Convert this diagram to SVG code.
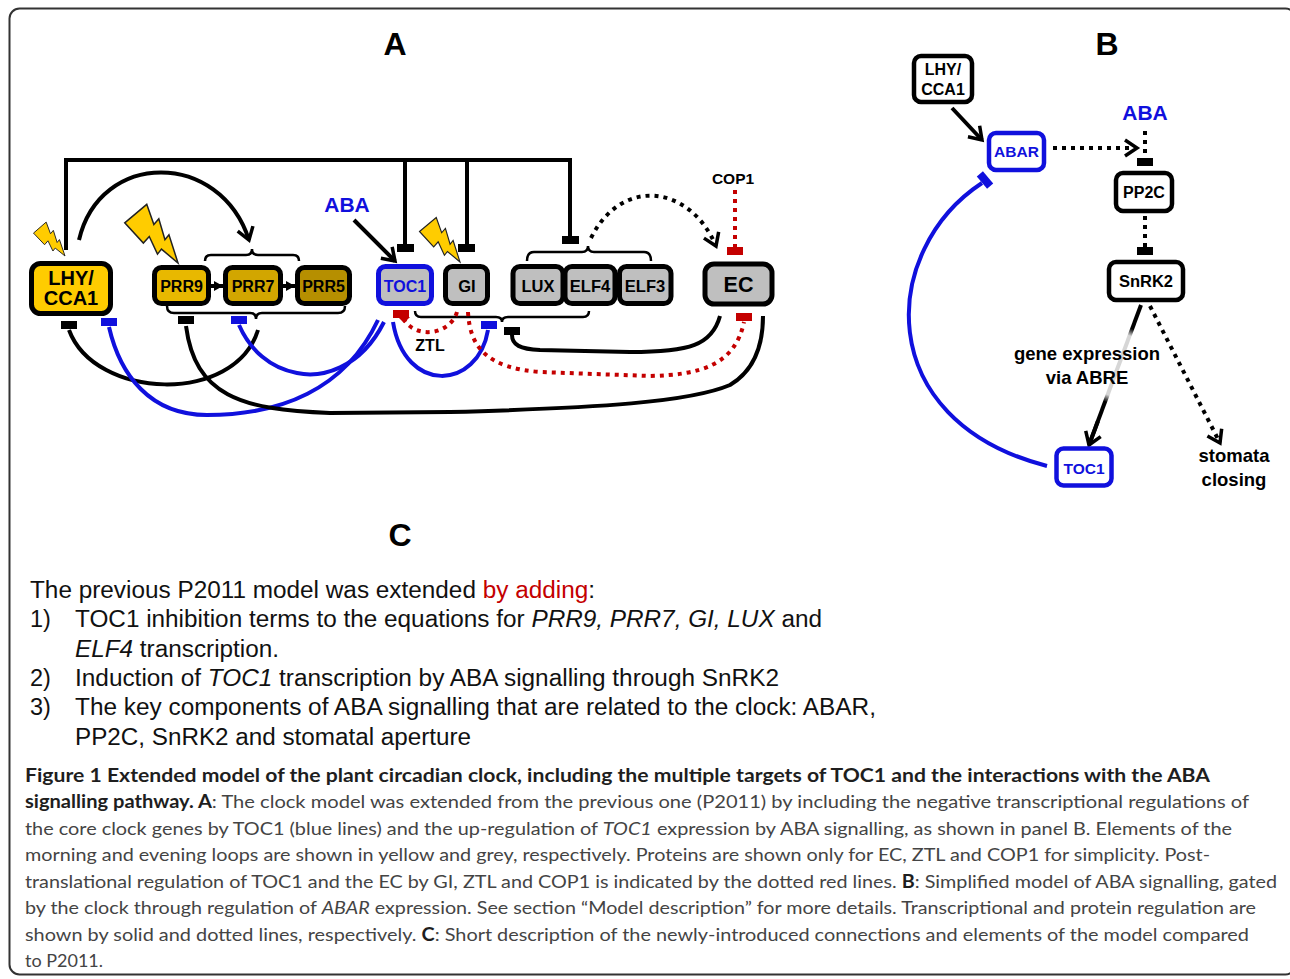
<svg xmlns="http://www.w3.org/2000/svg" width="1290" height="979" viewBox="0 0 1290 979">
<defs>
<style>
.nd{stroke:#000;stroke-width:5}
.ndb{stroke:#000;stroke-width:4.5;fill:#fff}
.ndblue{stroke:#1010dd;stroke-width:4.5;fill:#fff}
.lb{font-family:"Liberation Sans",Arial,sans-serif;font-weight:bold;text-anchor:middle;fill:#000}
.lbb{font-family:"Liberation Sans",Arial,sans-serif;font-weight:bold;text-anchor:middle;fill:#1010dd}
.ttl{font-family:"Liberation Sans",Arial,sans-serif;font-weight:bold;text-anchor:middle;font-size:32px;fill:#000}
.ln{fill:none;stroke:#000;stroke-width:4}
.bl{fill:none;stroke:#1010dd;stroke-width:4}
.rd{fill:none;stroke:#c40000;stroke-width:4;stroke-dasharray:4 5}
.dt{fill:none;stroke:#000;stroke-width:4;stroke-dasharray:4 5}
.br{fill:none;stroke:#000;stroke-width:2.5}
.bk{fill:#000}
.bb{fill:#1010dd}
.rb{fill:#c40000}
.bolt{fill:#ffcc00;stroke:#222;stroke-width:1.2;stroke-linejoin:miter}
.tc{font-family:"Liberation Sans",Arial,sans-serif;font-size:23.5px;fill:#111}
.cap{font-family:Lato,"Open Sans",sans-serif;font-size:18px;fill:#444}
.capb{font-weight:bold;fill:#1e1e1e}
</style>
<marker id="arr" markerUnits="userSpaceOnUse" markerWidth="24" markerHeight="24" viewBox="0 0 24 24" refX="20" refY="12" orient="auto">
<path d="M8,4 L20,12 L8,20" fill="none" stroke="#000" stroke-width="3.5" stroke-dasharray="none"/>
</marker>
<marker id="tri" markerUnits="userSpaceOnUse" markerWidth="9" markerHeight="10" viewBox="0 0 9 10" refX="9" refY="5" orient="auto">
<path d="M0,0 L9,5 L0,10 Z" fill="#000"/>
</marker>
<linearGradient id="gx" gradientUnits="userSpaceOnUse" x1="1141" y1="305" x2="1089" y2="445">
<stop offset="0" stop-color="#000"/>
<stop offset="0.17" stop-color="#000"/>
<stop offset="0.22" stop-color="#d6d6d6"/>
<stop offset="0.64" stop-color="#d6d6d6"/>
<stop offset="0.69" stop-color="#000"/>
<stop offset="1" stop-color="#000"/>
</linearGradient>
<path id="boltshape" d="M-12,-52 L11,-52 L5,-36 L11,-37 L4,-21 L9,-22 L0,0 L-3,-17 L-8,-16 L-4,-31 L-11,-30 Z"/>
</defs>

<rect x="9.5" y="8.5" width="1286" height="966" rx="10" fill="#fff" stroke="#333" stroke-width="2"/>

<text class="ttl" x="395" y="55">A</text>
<text class="ttl" x="1107" y="55">B</text>
<text class="ttl" x="400" y="546">C</text>

<g id="bolts">
<use href="#boltshape" class="bolt" transform="translate(65,256) rotate(-41) scale(0.73)"/>
<use href="#boltshape" class="bolt" transform="translate(178,263) rotate(-40) scale(1.25)"/>
<use href="#boltshape" class="bolt" transform="translate(460,262) rotate(-40) scale(0.95)"/>
</g>

<g id="connectors">
<!-- panel A -->
<path class="ln" d="M66 250 V160 H570 V236 M405 160 V244 M467 160 V244"/>
<rect class="bk" x="397" y="244" width="17" height="8"/>
<rect class="bk" x="458" y="244" width="17" height="8"/>
<rect class="bk" x="562" y="236" width="17" height="8"/>
<path class="ln" d="M79 240 C100 150, 220 150, 249 240" marker-end="url(#arr)"/>
<path class="br" d="M205 261 Q205 255 211 255 H246 Q252 255 252 249 Q252 255 258 255 H293 Q299 255 299 261"/>
<path class="br" d="M167 306 Q167 313 174 313 H250 Q256 313 256 319 Q256 313 262 313 H338 Q345 313 345 306"/>
<path class="br" d="M527 261 Q527 252 534 252 H582 Q588 252 588 246 Q588 252 594 252 H644 Q651 252 651 261"/>
<path class="br" d="M415 311 Q415 317 421 317 H496 Q502 317 502 322 Q502 317 508 317 H583 Q589 317 589 311"/>
<path class="dt" d="M591 238 C622 176, 690 185, 716 246" marker-end="url(#arr)"/>
<path class="rd" d="M735 190 V247"/>
<rect class="rb" x="727" y="247" width="16" height="8"/>
<path class="ln" d="M354 220 L395 261" marker-end="url(#arr)"/>
<path class="ln" stroke-width="2.5" d="M211 286 H223" marker-end="url(#tri)"/>
<path class="ln" stroke-width="2.5" d="M283 286 H295" marker-end="url(#tri)"/>
<!-- PRR -> LHY -->
<path class="ln" d="M258 330 C235 405, 95 400, 69 330"/>
<rect class="bk" x="61" y="321" width="16" height="8"/>
<!-- TOC1 -> LHY -->
<path class="bl" d="M378 320 C345 390, 280 415, 207 415 C150 415, 120 375, 109 327"/>
<rect class="bb" x="101" y="318" width="16" height="8"/>
<!-- TOC1 -> PRR7 -->
<path class="bl" d="M384 322 C360 370, 320 378, 297 373 C270 368, 250 350, 239 325"/>
<rect class="bb" x="231" y="316" width="16" height="8"/>
<!-- TOC1 -> GI -->
<path class="bl" d="M393 322 C405 395, 478 390, 488 330"/>
<rect class="bb" x="481" y="321" width="16" height="8"/>
<!-- EC -> PRR9 -->
<path class="ln" d="M186 326 C195 395, 240 410, 330 413 L450 412 C600 408, 690 402, 730 385 C755 370, 763 345, 763 316"/>
<rect class="bk" x="178" y="316" width="16" height="8"/>
<!-- EC -> evening brace -->
<path class="ln" d="M720 316 C712 345, 690 352, 630 352 L540 350 C520 349, 512 345, 512 335"/>
<rect class="bk" x="504" y="327" width="16" height="8"/>
<!-- GI -> EC (protein) -->
<path class="rd" d="M468 312 C470 350, 490 368, 540 372 L650 376 C700 375, 735 365, 744 322"/>
<rect class="rb" x="736" y="313" width="16" height="8"/>
<!-- GI/ZTL -> TOC1 -->
<path class="rd" d="M457 312 C450 335, 415 340, 403 318"/>
<rect class="rb" x="393" y="310" width="16" height="8"/>
<path class="rb" d="M398 317 L404 323 L410 317 Z"/>

<!-- panel B -->
<path class="ln" d="M952 108 L982 140" marker-end="url(#arr)"/>
<path class="dt" d="M1053 148 H1137" marker-end="url(#arr)"/>
<path class="dt" d="M1145 131 V158"/>
<rect class="bk" x="1137" y="158" width="16" height="8"/>
<path class="dt" d="M1145 216 V247"/>
<rect class="bk" x="1137" y="247" width="16" height="8"/>
<path fill="none" stroke="url(#gx)" stroke-width="4" d="M1141 305 L1089 445"/>
<path fill="none" stroke="#000" stroke-width="4" d="M1098 421 L1089 445" marker-end="url(#arr)"/>
<path class="dt" d="M1150 306 L1220 443" marker-end="url(#arr)"/>
<path class="bl" d="M1047 466 C870 420, 880 250, 982 183"/>
<rect class="bb" x="-8" y="-4" width="16" height="8" transform="translate(985,180) rotate(50)"/>
</g>

<g id="LHY_CCA1">
<rect class="nd" x="31.5" y="263.5" width="79" height="50" rx="9" fill="#ffcc00"/>
<text class="lb" font-size="20" x="71" y="285">LHY/</text>
<text class="lb" font-size="20" x="71" y="305">CCA1</text>
</g>
<g id="PRR9">
<rect class="nd" x="154.5" y="267.5" width="54" height="36" rx="7" fill="#e8b800"/>
<text class="lb" font-size="16" x="181.5" y="292">PRR9</text>
</g>
<g id="PRR7">
<rect class="nd" x="225.5" y="267.5" width="55" height="36" rx="7" fill="#d2a600"/>
<text class="lb" font-size="16" x="253" y="292">PRR7</text>
</g>
<g id="PRR5">
<rect class="nd" x="297.5" y="267.5" width="52" height="36" rx="7" fill="#b68f00"/>
<text class="lb" font-size="16" x="323.5" y="292">PRR5</text>
</g>
<g id="TOC1">
<rect x="378.5" y="266.5" width="53" height="37" rx="7" fill="#bfbfbf" stroke="#1010dd" stroke-width="5"/>
<text class="lbb" font-size="16" x="405" y="292">TOC1</text>
</g>
<g id="GI">
<rect class="nd" x="445.5" y="266.5" width="42" height="37" rx="7" fill="#bfbfbf"/>
<text class="lb" font-size="16.5" x="467" y="292">GI</text>
</g>
<g id="LUX">
<rect class="nd" x="513" y="266.5" width="50" height="37" rx="7" fill="#bfbfbf"/>
<text class="lb" font-size="16.5" x="538" y="292">LUX</text>
</g>
<g id="ELF4">
<rect class="nd" x="565" y="266.5" width="50" height="37" rx="7" fill="#bfbfbf"/>
<text class="lb" font-size="16.5" x="590" y="292">ELF4</text>
</g>
<g id="ELF3">
<rect class="nd" x="619.5" y="266.5" width="51.5" height="37" rx="7" fill="#bfbfbf"/>
<text class="lb" font-size="16.5" x="645" y="292">ELF3</text>
</g>
<g id="EC">
<rect class="nd" x="705" y="264" width="67" height="40" rx="9" fill="#bfbfbf"/>
<text class="lb" font-size="21.5" x="738.5" y="292">EC</text>
</g>
<g id="ABA_A">
<text class="lbb" font-size="21" x="347" y="212">ABA</text>
</g>
<g id="COP1">
<text class="lb" font-size="15.5" x="733" y="184">COP1</text>
</g>
<g id="ZTL">
<text class="lb" font-size="16" x="430" y="351">ZTL</text>
</g>

<g id="B_LHY_CCA1">
<rect class="ndb" x="914" y="56" width="58" height="46" rx="7"/>
<text class="lb" font-size="16" x="943" y="75">LHY/</text>
<text class="lb" font-size="16" x="943" y="95">CCA1</text>
</g>
<g id="ABAR">
<rect class="ndblue" x="989" y="133" width="55" height="37" rx="7"/>
<text class="lbb" font-size="15.5" x="1016.5" y="157">ABAR</text>
</g>
<g id="ABA_B">
<text class="lbb" font-size="21" x="1145" y="120">ABA</text>
</g>
<g id="PP2C">
<rect class="ndb" x="1116" y="173" width="56" height="38" rx="7"/>
<text class="lb" font-size="16" x="1144" y="198">PP2C</text>
</g>
<g id="SnRK2">
<rect class="ndb" x="1109" y="262" width="74" height="38" rx="7"/>
<text class="lb" font-size="16.5" x="1146" y="287">SnRK2</text>
</g>
<g id="B_TOC1">
<rect class="ndblue" x="1056.5" y="448.5" width="55" height="37" rx="7"/>
<text class="lbb" font-size="15.5" x="1084" y="474">TOC1</text>
</g>
<g id="gene_expr">
<text class="lb" font-size="18.5" x="1087" y="360">gene expression</text>
<text class="lb" font-size="18.5" x="1087" y="384">via ABRE</text>
</g>
<g id="stomata">
<text class="lb" font-size="18.5" x="1234" y="462">stomata</text>
<text class="lb" font-size="18.5" x="1234" y="486">closing</text>
</g>

<g id="panelC">
<text class="tc" x="30" y="598" textLength="565" lengthAdjust="spacingAndGlyphs">The previous P2011 model was extended <tspan fill="#c40000">by adding</tspan>:</text>
<text class="tc" x="30" y="627">1)</text>
<text class="tc" x="75" y="627" textLength="747" lengthAdjust="spacingAndGlyphs">TOC1 inhibition terms to the equations for <tspan font-style="italic">PRR9, PRR7, GI, LUX</tspan> and</text>
<text class="tc" x="75" y="657" textLength="204" lengthAdjust="spacingAndGlyphs"><tspan font-style="italic">ELF4</tspan> transcription.</text>
<text class="tc" x="30" y="686">2)</text>
<text class="tc" x="75" y="686" textLength="704" lengthAdjust="spacingAndGlyphs">Induction of <tspan font-style="italic">TOC1</tspan> transcription by ABA signalling through SnRK2</text>
<text class="tc" x="30" y="715">3)</text>
<text class="tc" x="75" y="715" textLength="801" lengthAdjust="spacingAndGlyphs">The key components of ABA signalling that are related to the clock: ABAR,</text>
<text class="tc" x="75" y="745" textLength="396" lengthAdjust="spacingAndGlyphs">PP2C, SnRK2 and stomatal aperture</text>
</g>

<g id="caption">
<text class="cap capb" x="25" y="782" textLength="1185" lengthAdjust="spacingAndGlyphs">Figure 1 Extended model of the plant circadian clock, including the multiple targets of TOC1 and the interactions with the ABA</text>
<text class="cap" x="25" y="808" textLength="1224" lengthAdjust="spacingAndGlyphs"><tspan class="capb">signalling pathway. A</tspan>: The clock model was extended from the previous one (P2011) by including the negative transcriptional regulations of</text>
<text class="cap" x="25" y="835" textLength="1207" lengthAdjust="spacingAndGlyphs">the core clock genes by TOC1 (blue lines) and the up-regulation of <tspan font-style="italic">TOC1</tspan> expression by ABA signalling, as shown in panel B. Elements of the</text>
<text class="cap" x="25" y="861" textLength="1185" lengthAdjust="spacingAndGlyphs">morning and evening loops are shown in yellow and grey, respectively. Proteins are shown only for EC, ZTL and COP1 for simplicity. Post-</text>
<text class="cap" x="25" y="888" textLength="1252" lengthAdjust="spacingAndGlyphs">translational regulation of TOC1 and the EC by GI, ZTL and COP1 is indicated by the dotted red lines. <tspan class="capb">B</tspan>: Simplified model of ABA signalling, gated</text>
<text class="cap" x="25" y="914" textLength="1231" lengthAdjust="spacingAndGlyphs">by the clock through regulation of <tspan font-style="italic">ABAR</tspan> expression. See section “Model description” for more details. Transcriptional and protein regulation are</text>
<text class="cap" x="25" y="941" textLength="1224" lengthAdjust="spacingAndGlyphs">shown by solid and dotted lines, respectively. <tspan class="capb">C</tspan>: Short description of the newly-introduced connections and elements of the model compared</text>
<text class="cap" x="25" y="967">to P2011.</text>
</g>
</svg>
